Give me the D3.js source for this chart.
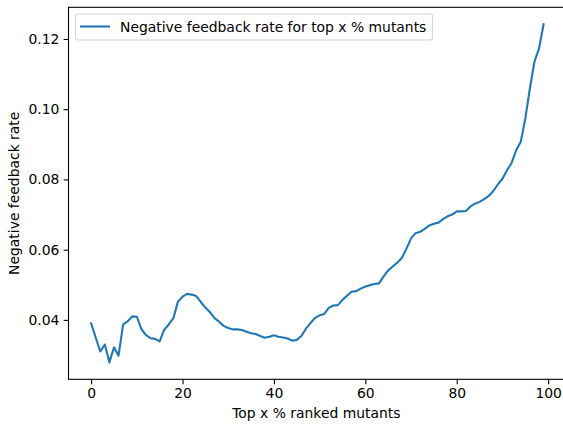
<!DOCTYPE html>
<html>
<head>
<meta charset="utf-8">
<script src="https://cdn.jsdelivr.net/npm/d3@7"></script>
<style>
  html, body { margin: 0; padding: 0; background: #fff; }
  svg { display: block; font-family: "DejaVu Sans", sans-serif; }
</style>
</head>
<body>
<svg id="chart" width="563" height="424"></svg>
<script>
// Data: negative feedback rate for top x % ranked mutants (x = 0..99)
const xValues = d3.range(0, 100);
const rates = [
  0.0390, 0.0350, 0.0310, 0.0330, 0.0279, 0.0322, 0.0298, 0.0387, 0.0396, 0.0410,
  0.0409, 0.0374, 0.0357, 0.0348, 0.0346, 0.0339, 0.0372, 0.0387, 0.0405, 0.0452,
  0.0466, 0.0474, 0.0472, 0.0468, 0.0451, 0.0435, 0.0422, 0.0405, 0.0395, 0.0383,
  0.0377, 0.0373, 0.0373, 0.0371, 0.0366, 0.0362, 0.0360, 0.0354, 0.0349, 0.0352,
  0.0356, 0.0352, 0.0350, 0.0347, 0.0341, 0.0343, 0.0354, 0.0375, 0.0391, 0.0406,
  0.0413, 0.0417, 0.0434, 0.0441, 0.0442, 0.0457, 0.0469, 0.0480, 0.0482, 0.0489,
  0.0495, 0.0499, 0.0502, 0.0504, 0.0524, 0.0541, 0.0552, 0.0563, 0.0577, 0.0603,
  0.0632, 0.0647, 0.0651, 0.0659, 0.0669, 0.0674, 0.0677, 0.0687, 0.0695, 0.0700,
  0.0709, 0.0709, 0.0710, 0.0723, 0.0731, 0.0736, 0.0744, 0.0753, 0.0767, 0.0786,
  0.0802, 0.0826, 0.0847, 0.0883, 0.0907, 0.0973, 0.1059, 0.1135, 0.1173, 0.1242
];
const xTicks = [0, 20, 40, 60, 80, 100];
const yTicks = [0.04, 0.06, 0.08, 0.10, 0.12];
const seriesLabel = "Negative feedback rate for top x % mutants";
const xLabel = "Top x % ranked mutants";
const yLabel = "Negative feedback rate";

const svg = d3.select("#chart");
const mLeft = 68.5, mRight = 566.2, mTop = 7.3, mBottom = 379.3;

const xMin = d3.min(xValues), xMax = d3.max(xValues);
const xPad = (xMax - xMin) * 0.05;
const yMin = d3.min(rates), yMax = d3.max(rates);
const yPad = (yMax - yMin) * 0.05;

const x = d3.scaleLinear().domain([xMin - xPad, xMax + xPad]).range([mLeft, mRight]);
const y = d3.scaleLinear().domain([yMin - yPad, yMax + yPad]).range([mBottom, mTop]);

const fontSize = 13.9;

// Line
const data = xValues.map((d, i) => ({x: d, y: rates[i]}));
svg.append("path")
  .datum(data)
  .attr("fill", "none")
  .attr("stroke", "#1f77b4")
  .attr("stroke-width", 2.08)
  .attr("stroke-linejoin", "round")
  .attr("stroke-linecap", "square")
  .attr("d", d3.line().x(d => x(d.x)).y(d => y(d.y)));

// Axes
const xAxis = svg.append("g")
  .attr("transform", `translate(0,${mBottom})`)
  .call(d3.axisBottom(x).tickValues(xTicks).tickFormat(d3.format("d")).tickSize(4.86).tickPadding(4.3));
const yAxis = svg.append("g")
  .attr("transform", `translate(${mLeft},0)`)
  .call(d3.axisLeft(y).tickValues(yTicks).tickFormat(d3.format(".2f")).tickSize(4.86).tickPadding(4.3));

[xAxis, yAxis].forEach(g => {
  g.select(".domain").remove();
  g.selectAll(".tick line").attr("stroke", "#000").attr("stroke-width", 1.1);
  g.selectAll(".tick text").attr("fill", "#000").style("font-size", fontSize + "px")
    .style("font-family", "DejaVu Sans, sans-serif");
});

// Spines (frame)
svg.append("rect")
  .attr("x", mLeft).attr("y", mTop)
  .attr("width", mRight - mLeft).attr("height", mBottom - mTop)
  .attr("fill", "none").attr("stroke", "#000").attr("stroke-width", 1.1);

// Axis labels
svg.append("text")
  .attr("x", (mLeft + mRight) / 2 - 1).attr("y", 418)
  .attr("text-anchor", "middle")
  .style("font-size", fontSize + "px")
  .text(xLabel);

svg.append("text")
  .attr("transform", `translate(19,${(mTop + mBottom) / 2}) rotate(-90)`)
  .attr("text-anchor", "middle")
  .style("font-size", fontSize + "px")
  .text(yLabel);

// Legend
const legend = svg.append("g");
legend.append("rect")
  .attr("x", 75.5).attr("y", 14).attr("width", 357).attr("height", 26)
  .attr("rx", 2.5).attr("ry", 2.5)
  .attr("fill", "#fff").attr("fill-opacity", 0.8)
  .attr("stroke", "#d6d6d6").attr("stroke-width", 1.1);
legend.append("line")
  .attr("x1", 80).attr("x2", 110).attr("y1", 26.5).attr("y2", 26.5)
  .attr("stroke", "#1f77b4").attr("stroke-width", 2.08);
legend.append("text")
  .attr("x", 120).attr("y", 32)
  .style("font-size", fontSize + "px")
  .text(seriesLabel);
</script>
</body>
</html>
